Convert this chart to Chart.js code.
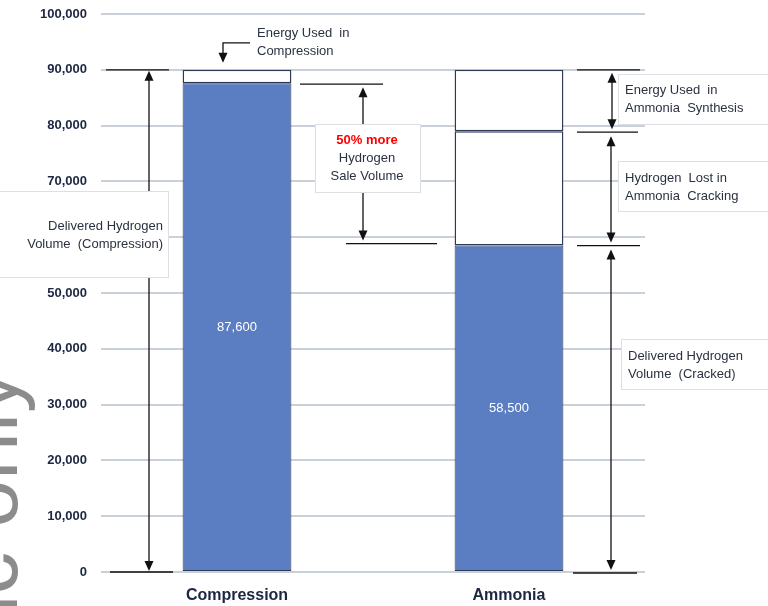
<!DOCTYPE html>
<html>
<head>
<meta charset="utf-8">
<script src="https://cdn.jsdelivr.net/npm/chart.js@4"></script>
<style>
  html, body { margin: 0; padding: 0; background: #fff; }
  #wrap { width: 768px; height: 606px; position: relative; }
</style>
</head>
<body>
<div id="wrap"><canvas id="chart" width="768" height="606"></canvas></div>
<script>
// Данные графика
const categories = ['Compression', 'Ammonia'];
const deliveredHydrogen = [87600, 58500];
const hydrogenLostCracking = [null, 20500];
const energyUsed = [2400, 11000];
const yTicks = [0, 10000, 20000, 30000, 40000, 50000, 60000, 70000, 80000, 90000, 100000];

const FONT = '"Liberation Sans", Arial, sans-serif';
const TEXT_COLOR = '#2a3140';
const EDGE = '#2e3a55';

// Рисуем стрелку (треугольник) в точке (x, y), dir = -1 вверх, 1 вниз
function arrowHead(ctx, x, y, dir) {
  ctx.beginPath();
  ctx.moveTo(x, y);
  ctx.lineTo(x - 4.5, y - dir * 10);
  ctx.lineTo(x + 4.5, y - dir * 10);
  ctx.closePath();
  ctx.fill();
}

function vArrow(ctx, x, yTop, yBottom) {
  ctx.beginPath();
  ctx.moveTo(x, yTop + 8);
  ctx.lineTo(x, yBottom - 8);
  ctx.stroke();
  arrowHead(ctx, x, yTop, -1);
  arrowHead(ctx, x, yBottom, 1);
}

function hLine(ctx, x1, x2, y) {
  ctx.beginPath();
  ctx.moveTo(x1, y);
  ctx.lineTo(x2, y);
  ctx.stroke();
}

function labelBox(ctx, x, y, w, h) {
  ctx.save();
  ctx.fillStyle = '#ffffff';
  ctx.strokeStyle = '#dcdfe4';
  ctx.lineWidth = 1;
  ctx.fillRect(x, y, w, h);
  ctx.strokeRect(x + 0.5, y + 0.5, w, h);
  ctx.restore();
}

function lines(ctx, arr, x, y, step) {
  arr.forEach((t, i) => ctx.fillText(t, x, y + i * step));
}

// Плагин: водяной знак
const watermarkPlugin = {
  id: 'watermark',
  beforeDraw(chart) {
    const ctx = chart.ctx;
    ctx.save();
    ctx.translate(17, 370);
    ctx.rotate(-Math.PI / 2);
    ctx.font = '86px ' + FONT;
    ctx.fillStyle = '#8c8c8c';
    ctx.textAlign = 'right';
    ctx.textBaseline = 'alphabetic';
    ctx.fillText('Public only', 0, 0);
    ctx.restore();
  }
};

// Плагин: подписи и стрелки
const annotationPlugin = {
  id: 'annotations',
  afterDatasetsDraw(chart) {
    const ctx = chart.ctx;
    const x = chart.scales.x;
    const y = chart.scales.y;
    const c0 = x.getPixelForValue(0);
    const c1 = x.getPixelForValue(1);

    const yTopC = y.getPixelForValue(deliveredHydrogen[0] + energyUsed[0]);
    const yDelC = y.getPixelForValue(deliveredHydrogen[0]);
    const yTopA = y.getPixelForValue(deliveredHydrogen[1] + hydrogenLostCracking[1] + energyUsed[1]);
    const yMidA = y.getPixelForValue(deliveredHydrogen[1] + hydrogenLostCracking[1]);
    const yDelA = y.getPixelForValue(deliveredHydrogen[1]);
    const y0 = y.getPixelForValue(0);

    // значения внутри синих столбцов
    const meta = chart.getDatasetMeta(0);
    ctx.save();
    ctx.fillStyle = '#ffffff';
    ctx.font = '13px ' + FONT;
    ctx.textAlign = 'center';
    ctx.textBaseline = 'middle';
    meta.data.forEach((bar, i) => {
      ctx.fillText(deliveredHydrogen[i].toLocaleString('en-US'), bar.x, (bar.y + bar.base) / 2);
    });
    ctx.restore();

    ctx.save();
    ctx.strokeStyle = '#111';
    ctx.fillStyle = '#111';
    ctx.lineWidth = 1.3;

    // Левая аннотация (Compression)
    hLine(ctx, c0 - 131, c0 - 68, yTopC);
    hLine(ctx, c0 - 127, c0 - 64, y0);
    vArrow(ctx, c0 - 88, yTopC + 1, y0 - 1);

    // Energy Used in Compression
    ctx.beginPath();
    ctx.moveTo(c0 + 13, yTopC - 27);
    ctx.lineTo(c0 - 14, yTopC - 27);
    ctx.lineTo(c0 - 14, yTopC - 14);
    ctx.stroke();
    arrowHead(ctx, c0 - 14, yTopC - 7, 1);

    // Средняя аннотация (50% more)
    hLine(ctx, c0 + 63, c0 + 146, yDelC + 1);
    hLine(ctx, c0 + 109, c0 + 200, yDelA - 2);
    ctx.beginPath();
    ctx.moveTo(c0 + 126, yDelC + 10);
    ctx.lineTo(c0 + 126, 124);
    ctx.moveTo(c0 + 126, 192);
    ctx.lineTo(c0 + 126, yDelA - 12);
    ctx.stroke();
    arrowHead(ctx, c0 + 126, yDelC + 4, -1);
    arrowHead(ctx, c0 + 126, yDelA - 5, 1);

    // Правая аннотация (Ammonia)
    hLine(ctx, c1 + 68, c1 + 131, yTopA);
    hLine(ctx, c1 + 68, c1 + 129, yMidA + 1);
    hLine(ctx, c1 + 68, c1 + 131, yDelA);
    hLine(ctx, c1 + 64, c1 + 128, y0 + 1);
    vArrow(ctx, c1 + 103, yTopA + 3, yMidA - 2);
    vArrow(ctx, c1 + 102, yMidA + 5, yDelA - 3);
    vArrow(ctx, c1 + 102, yDelA + 4, y0 - 2);
    ctx.restore();

    // Рамки с подписями
    labelBox(ctx, -2, 191, 170, 86);
    labelBox(ctx, c0 + 78, 124, 105, 68);
    labelBox(ctx, c1 + 109, 74, 162, 50);
    labelBox(ctx, c1 + 109, 161, 162, 50);
    labelBox(ctx, c1 + 112, 339, 160, 50);

    ctx.save();
    ctx.font = '13px ' + FONT;
    ctx.fillStyle = TEXT_COLOR;
    ctx.textBaseline = 'middle';

    ctx.textAlign = 'right';
    lines(ctx, ['Delivered Hydrogen', 'Volume  (Compression)'], 163, 226, 18);

    ctx.textAlign = 'left';
    lines(ctx, ['Energy Used  in', 'Compression'], c0 + 20, 33, 18);
    lines(ctx, ['Energy Used  in', 'Ammonia  Synthesis'], c1 + 116, 90, 18);
    lines(ctx, ['Hydrogen  Lost in', 'Ammonia  Cracking'], c1 + 116, 178, 18);
    lines(ctx, ['Delivered Hydrogen', 'Volume  (Cracked)'], c1 + 119, 356, 18);

    ctx.textAlign = 'center';
    lines(ctx, ['Hydrogen', 'Sale Volume'], c0 + 130, 158, 18);
    ctx.fillStyle = '#ff0000';
    ctx.font = 'bold 13px ' + FONT;
    ctx.fillText('50% more', c0 + 130, 140);
    ctx.restore();
  }
};

const ctx = document.getElementById('chart').getContext('2d');
new Chart(ctx, {
  type: 'bar',
  data: {
    labels: categories,
    datasets: [
      {
        label: 'Delivered Hydrogen',
        data: deliveredHydrogen,
        backgroundColor: '#5b7ec2',
        borderColor: EDGE,
        borderWidth: 1,
        borderSkipped: false,
      },
      {
        label: 'Hydrogen Lost in Cracking',
        data: hydrogenLostCracking,
        backgroundColor: '#ffffff',
        borderColor: EDGE,
        borderWidth: 1.5,
        borderSkipped: false,
      },
      {
        label: 'Energy Used',
        data: energyUsed,
        backgroundColor: '#ffffff',
        borderColor: EDGE,
        borderWidth: 1.5,
        borderSkipped: false,
      },
    ],
  },
  options: {
    animation: false,
    responsive: false,
    maintainAspectRatio: false,
    layout: { padding: { top: 14, right: 123, left: 0, bottom: 0 } },
    datasets: { bar: { categoryPercentage: 1, barPercentage: 0.4 } },
    plugins: {
      legend: { display: false },
      tooltip: { enabled: false },
    },
    scales: {
      x: {
        stacked: true,
        grid: { display: false },
        border: { display: false },
        ticks: {
          color: '#1c2541',
          font: { family: FONT, size: 16, weight: 'bold' },
          padding: 6,
        },
        afterFit: (scale) => {
          scale.height = 34;
          scale.paddingLeft = 0;
          scale.paddingRight = 0;
        },
      },
      y: {
        stacked: true,
        min: 0,
        max: 100000,
        afterBuildTicks: (scale) => { scale.ticks = yTicks.map((v) => ({ value: v })); },
        grid: { color: '#cad0da', lineWidth: 2, drawTicks: false },
        border: { display: false },
        ticks: {
          color: '#1c2541',
          font: { family: FONT, size: 13, weight: 'bold' },
          padding: 14,
          callback: (v) => Number(v).toLocaleString('en-US'),
        },
        afterFit: (scale) => {
          scale.width = 101;
          scale.paddingTop = 0;
          scale.paddingBottom = 0;
        },
      },
    },
  },
  plugins: [watermarkPlugin, annotationPlugin],
});
</script>
</body>
</html>
